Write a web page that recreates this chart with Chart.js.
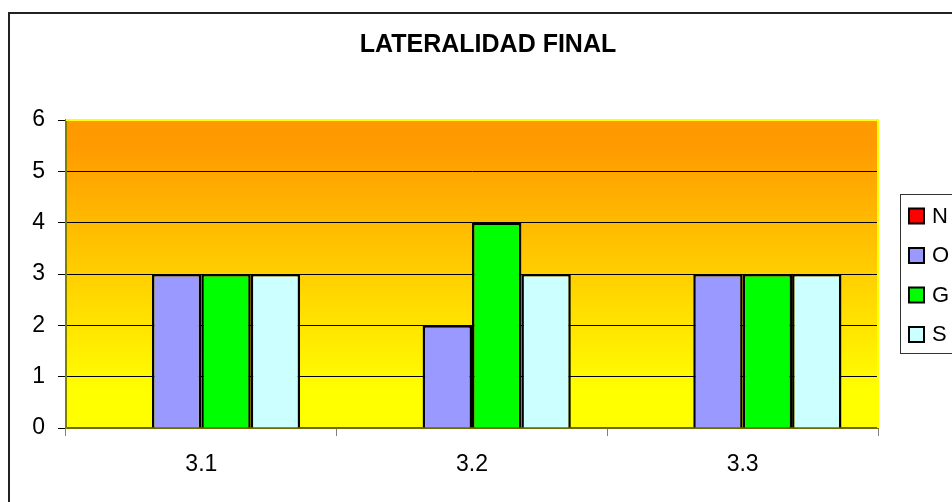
<!DOCTYPE html>
<html>
<head>
<meta charset="utf-8">
<script src="https://cdn.jsdelivr.net/npm/chart.js@4/dist/chart.umd.min.js"></script>
<style>
html,body{margin:0;padding:0;background:#fff;}
#wrap{width:952px;height:502px;position:relative;}
</style>
</head>
<body>
<div id="wrap"><canvas id="c" width="952" height="502"></canvas></div>
<script>
const titleText = "LATERALIDAD FINAL";
const categories = ["3.1", "3.2", "3.3"];
const seriesNames = ["N", "O", "G", "S"];
const valuesN = [0, 0, 0];
const valuesO = [3, 2, 3];
const valuesG = [3, 4, 3];
const valuesS = [3, 3, 3];
const yTicks = [0, 1, 2, 3, 4, 5, 6];

const colors = ["#FF0000", "#9999FF", "#00FF00", "#CCFFFF"];
const allValues = [valuesN, valuesO, valuesG, valuesS];

const FONT = "'Liberation Sans', Arial, sans-serif";

const decor = {
  id: 'decor',
  beforeDraw(chart) {
    const {ctx, chartArea: a} = chart;
    ctx.save();
    ctx.fillStyle = '#fff';
    ctx.fillRect(0, 0, chart.width, chart.height);
    const g = ctx.createLinearGradient(0, a.top, 0, a.bottom);
    g.addColorStop(0, '#FF9900');
    g.addColorStop(0.08, '#FF9A00');
    g.addColorStop(0.88, '#FFFF00');
    g.addColorStop(1, '#FFFF00');
    ctx.fillStyle = g;
    ctx.fillRect(a.left, a.top, a.right - a.left, a.bottom - a.top);
    // outer border
    ctx.strokeStyle = '#222';
    ctx.lineWidth = 2;
    ctx.strokeRect(9, 13, 1200, 1200);
    ctx.restore();
  },
  beforeDatasetsDraw(chart) {
    const {ctx, chartArea: a} = chart;
    ctx.save();
    ctx.strokeStyle = '#FFFF00';
    ctx.lineWidth = 2;
    ctx.beginPath();
    ctx.moveTo(a.left, a.top);
    ctx.lineTo(a.right, a.top);
    ctx.lineTo(a.right, a.bottom);
    ctx.stroke();
    ctx.restore();
  },
  afterDraw(chart) {
    const ctx = chart.ctx;
    ctx.save();
    // title
    ctx.fillStyle = '#000';
    ctx.font = "bold 25px " + FONT;
    ctx.textAlign = 'center';
    ctx.textBaseline = 'middle';
    ctx.fillText(titleText, 488, 45);
    // legend
    ctx.strokeStyle = '#333';
    ctx.lineWidth = 1;
    ctx.strokeRect(900.5, 194.5, 100, 159);
    ctx.font = "22px " + FONT;
    ctx.textAlign = 'left';
    chart.data.datasets.forEach((ds, i) => {
      const cy = 215.5 + i * 39.5;
      ctx.fillStyle = ds.backgroundColor;
      ctx.fillRect(909, cy - 7, 15, 15);
      ctx.strokeStyle = '#000';
      ctx.lineWidth = 2;
      ctx.strokeRect(909, cy - 7, 15, 15);
      ctx.fillStyle = '#000';
      ctx.fillText(ds.label, 932, cy + 1);
    });
    ctx.restore();
  }
};

new Chart(document.getElementById('c'), {
  type: 'bar',
  data: {
    labels: categories,
    datasets: seriesNames.map((n, i) => ({
      label: n,
      data: allValues[i],
      backgroundColor: colors[i],
      borderColor: '#000',
      borderWidth: 2.5,
      barPercentage: 1,
      categoryPercentage: 0.73
    }))
  },
  options: {
    responsive: false,
    animation: false,
    devicePixelRatio: 1,
    layout: {padding: {left: 0, top: 120, right: 74, bottom: 0}},
    plugins: {
      legend: {display: false},
      title: {display: false},
      tooltip: {enabled: false}
    },
    scales: {
      x: {
        offset: true,
        grid: {display: true, drawOnChartArea: false, drawTicks: true, tickLength: 8, tickColor: '#808080', offset: true},
        border: {display: true, color: '#6B6B00', width: 2},
        ticks: {color: '#000', font: {family: FONT, size: 23}, padding: 15},
        afterFit(s) { s.height = 74; }
      },
      y: {
        min: 0, max: 6,
        afterBuildTicks(s) { s.ticks = yTicks.map(v => ({value: v})); },
        grid: {color: '#000', lineWidth: 1, tickLength: 8, tickColor: '#000'},
        border: {display: true, color: '#808000', width: 2},
        ticks: {color: '#000', font: {family: FONT, size: 23}, padding: 13},
        afterFit(s) { s.width = 66; }
      }
    }
  },
  plugins: [decor]
});
</script>
</body>
</html>
